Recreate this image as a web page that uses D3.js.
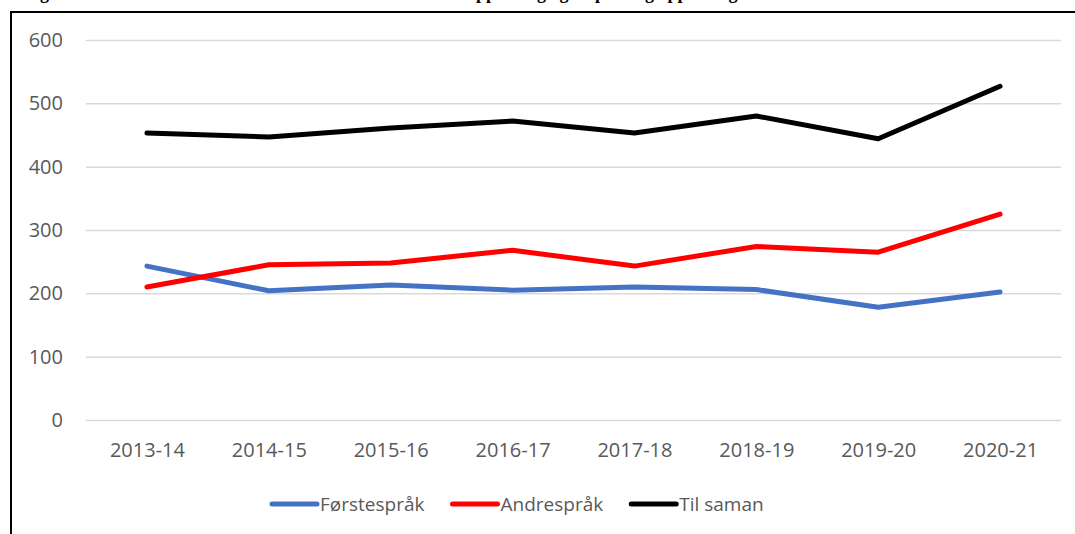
<!DOCTYPE html>
<html>
<head>
<meta charset="utf-8">
<script src="https://cdn.jsdelivr.net/npm/d3@7"></script>
<style>
  body { margin: 0; background: #fff; }
  svg { display: block; }
</style>
</head>
<body>
<div class="chart"></div>
<script>
var W = 1075, H = 534;

var categories = ['2013-14', '2014-15', '2015-16', '2016-17', '2017-18', '2018-19', '2019-20', '2020-21'];
var forstesprak = [243, 204, 213, 205, 210, 206, 178, 202];
var andresprak = [210, 245, 248, 268, 243, 274, 265, 325];
var tilSaman = [453, 447, 461, 472, 453, 480, 444, 527];
var yTicks = [0, 100, 200, 300, 400, 500, 600];
var titleText = 'Figur 6: Tal elevar som har fått vedtak om særskild norskopplæring og tospråkleg opplæring';

var series = [
  {name: 'Førstespråk', values: forstesprak, color: '#4472C4'},
  {name: 'Andrespråk', values: andresprak, color: '#FF0000'},
  {name: 'Til saman', values: tilSaman, color: '#000000'}
];

var plot = {left: 86, right: 1061, top: 40, bottom: 420};
var font = '"Open Sans", sans-serif';

var svg = d3.select('.chart')
  .append('svg')
  .attr('width', W)
  .attr('height', H);

// title, mostly cut off at the top edge like in the source
svg.append('text')
  .attr('x', 24)
  .attr('y', -1)
  .style('font-family', '"Liberation Serif", serif')
  .style('font-weight', 'bold')
  .style('font-size', '18px')
  .style('fill', '#000')
  .text(titleText);

// frame
svg.append('rect')
  .attr('x', 11)
  .attr('y', 12)
  .attr('width', 1200)
  .attr('height', 700)
  .style('fill', 'none')
  .style('stroke', '#000')
  .style('stroke-width', 2);

var x = d3.scalePoint()
  .domain(categories)
  .range([plot.left, plot.right])
  .padding(0.5);

var y = d3.scaleLinear()
  .domain([0, 600])
  .range([plot.bottom, plot.top]);

// y axis + gridlines
var yAxis = svg.append('g')
  .attr('transform', `translate(${plot.left}, 0)`)
  .call(d3.axisLeft(y).tickValues(yTicks).tickSize(-(plot.right - plot.left)).tickPadding(23));
yAxis.select('.domain').remove();
yAxis.selectAll('line').style('stroke', '#d9d9d9').style('stroke-width', 1.5);
yAxis.selectAll('text')
  .style('font-family', font)
  .style('font-size', '20px')
  .style('fill', '#595959');

// x axis labels
var xAxis = svg.append('g')
  .attr('transform', `translate(0, ${plot.bottom})`)
  .call(d3.axisBottom(x).tickSize(0).tickPadding(23));
xAxis.select('.domain').remove();
xAxis.selectAll('text')
  .style('font-family', font)
  .style('font-size', '20px')
  .style('fill', '#595959');

var line = d3.line()
  .x((d, i) => x(categories[i]))
  .y(d => y(d));

svg.selectAll('.series')
  .data(series)
  .enter()
  .append('path')
  .attr('class', 'series')
  .attr('d', d => line(d.values))
  .style('fill', 'none')
  .style('stroke', d => d.color)
  .style('stroke-width', 5)
  .style('stroke-linecap', 'round')
  .style('stroke-linejoin', 'round');

// legend
var legend = svg.append('g').attr('transform', 'translate(272, 504)');
var lx = 0;
series.forEach(s => {
  var g = legend.append('g').attr('transform', `translate(${lx}, 0)`);
  g.append('line')
    .attr('x1', 0).attr('x2', 45)
    .attr('y1', 0).attr('y2', 0)
    .style('stroke', s.color)
    .style('stroke-width', 5)
    .style('stroke-linecap', 'round');
  var t = g.append('text')
    .attr('x', 48)
    .attr('y', 7)
    .style('font-family', font)
    .style('font-size', '19px')
    .style('fill', '#595959')
    .text(s.name);
  lx += 48 + t.node().getComputedTextLength() + 28;
});
</script>
</body>
</html>
